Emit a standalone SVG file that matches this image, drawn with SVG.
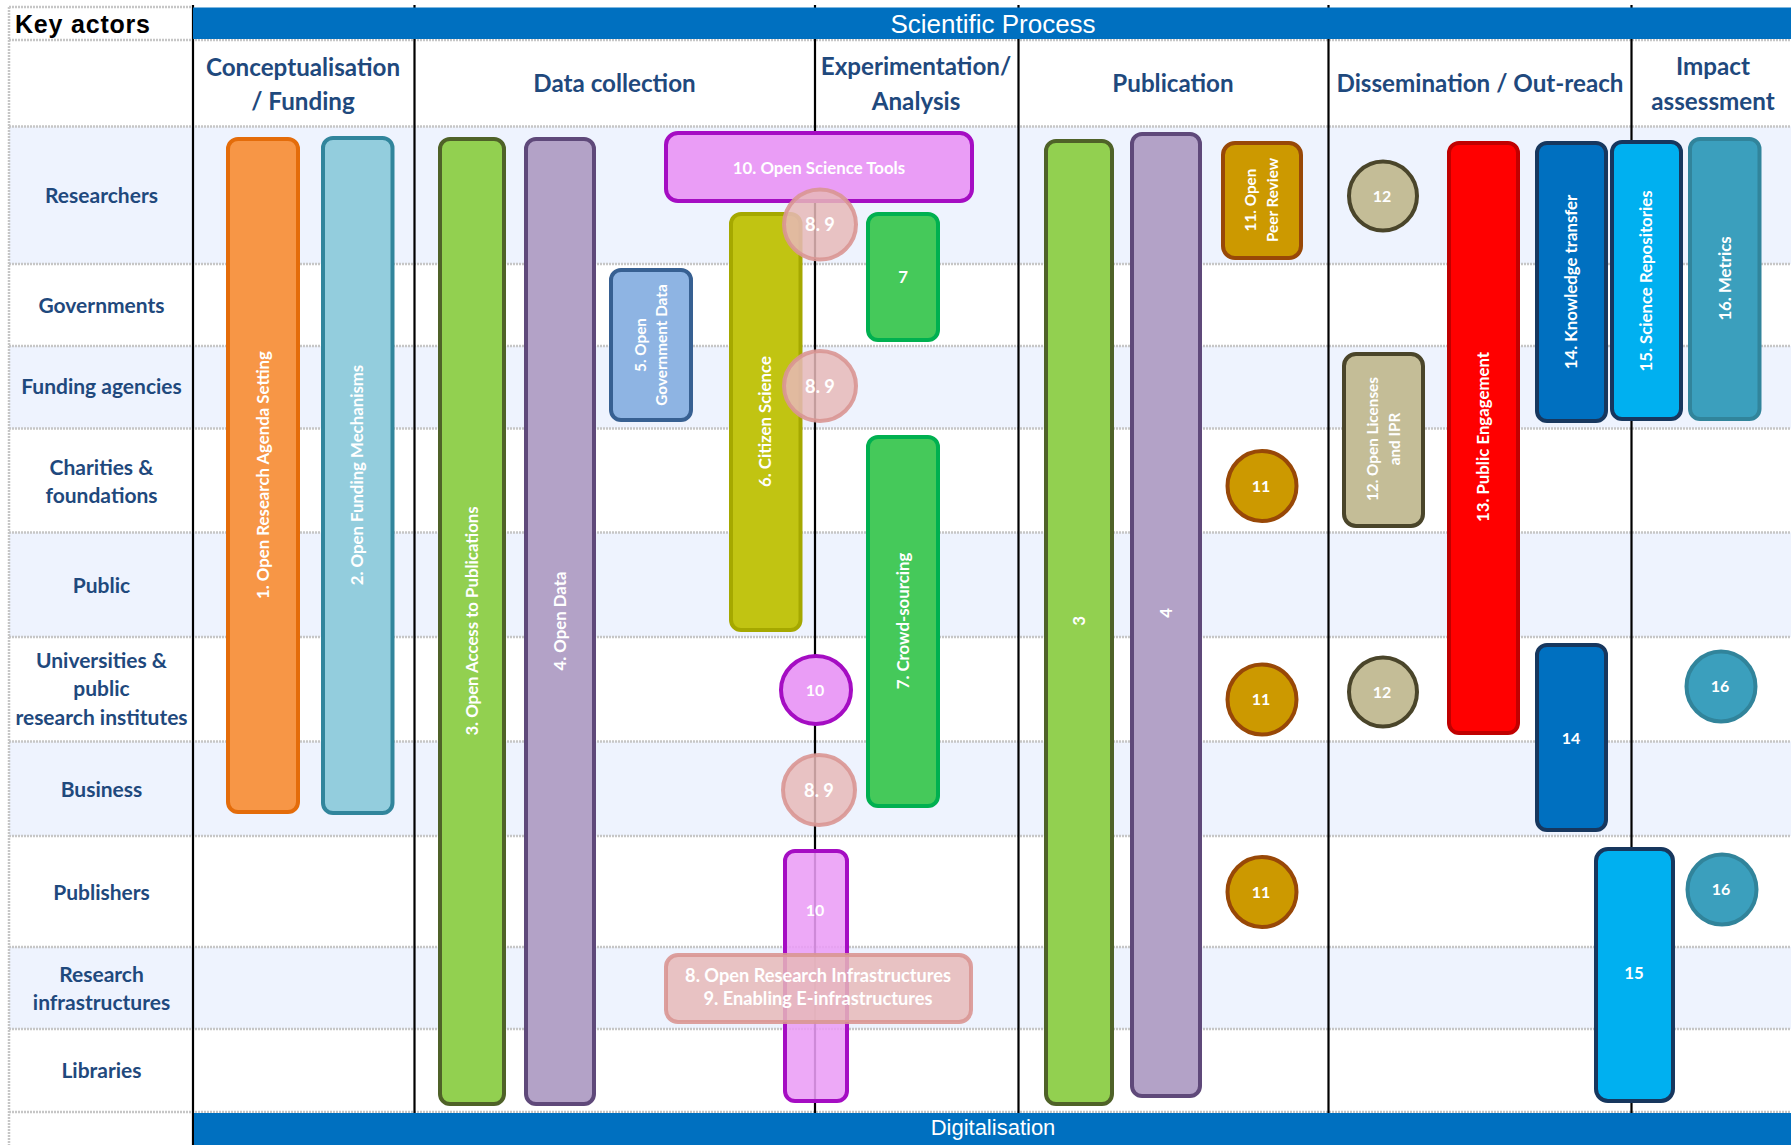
<svg xmlns="http://www.w3.org/2000/svg" width="1791" height="1145" viewBox="0 0 1791 1145">
<style>
.rowb{fill:#EEF3FE}
.sep{stroke:#C6C6C6;stroke-width:2.5;stroke-dasharray:2 1;fill:none}
.vl{stroke:#000;stroke-width:2.2}
.hbar{fill:#0070C0}
.bt{font-family:"Liberation Sans",Arial,sans-serif;fill:#fff;text-anchor:middle}
.ch{font-family:Lato,"Liberation Sans",sans-serif;font-weight:700;font-size:24.2px;fill:#1F497D;text-anchor:middle}
.rl{font-family:Lato,"Liberation Sans",sans-serif;font-weight:700;font-size:21px;fill:#1F497D;text-anchor:middle}
.lbl{font-family:Lato,"Liberation Sans",sans-serif;font-weight:700;font-size:16.8px;fill:#fff;text-anchor:middle}
.sm{font-size:15.3px}
.num{font-size:16px}
.big{font-size:18.2px}
.n rect,.n ellipse{stroke-width:4}
.o{fill:#F79646;stroke:#E46C0A}
.lb{fill:#93CDDD;stroke:#31859C}
.g{fill:#92D050;stroke:#4F6228}
.p{fill:#B3A2C7;stroke:#5F497A}
.gov{fill:#8EB4E3;stroke:#376092}
.cit{fill:#C1C412;stroke:#A5A800}
.cr{fill:#45C95A;stroke:#00B050}
.ost{fill:#EA9DF6;stroke:#A50DC3}
.ri{fill:#E6B9B8;stroke:#D99694;fill-opacity:0.85;stroke-opacity:0.9}
.pr{fill:#CC9900;stroke:#984807}
.lic{fill:#C4BD97;stroke:#4A452A}
.pe{fill:#FF0000;stroke:#C00000}
.kt{fill:#0070C0;stroke:#17375E}
.sr{fill:#00B0F0;stroke:#17375E}
.me{fill:#3B9FBD;stroke:#31849B}
</style>

<g id="table">
  <rect x="0" y="0" width="1791" height="1145" fill="#fff"/>
  <rect class="rowb" x="9" y="126.5" width="1782" height="137.5"/>
  <rect class="rowb" x="9" y="346" width="1782" height="82.5"/>
  <rect class="rowb" x="9" y="532.5" width="1782" height="104.5"/>
  <rect class="rowb" x="9" y="741.5" width="1782" height="94.5"/>
  <rect class="rowb" x="9" y="947" width="1782" height="82"/>
  <path class="sep" d="M9 7H193 M9 40H1791 M9 126.5H1791 M9 264H1791 M9 346H1791 M9 428.5H1791 M9 532.5H1791 M9 637H1791 M9 741.5H1791 M9 836H1791 M9 947H1791 M9 1029H1791 M9 1112H1791 M9 7V1145"/>
  <path class="vl" d="M193 5V1145 M414.5 5V1145 M815 5V1145 M1018.5 5V1145 M1328.5 5V1145 M1631.5 5V1145"/>
  <rect class="hbar" x="193" y="7.5" width="1598" height="31.5"/>
  <rect class="hbar" x="194" y="1113" width="1597" height="32"/>
  <text x="15" y="33" font-family="Liberation Sans,Arial,sans-serif" font-weight="700" font-size="25" textLength="135" fill="#000">Key actors</text>
  <text class="bt" x="993" y="33" font-size="26">Scientific Process</text>
  <text class="bt" x="993" y="1135" font-size="22">Digitalisation</text>
</g>

<g id="column-headers">
  <text class="ch" x="303" y="76">Conceptualisation</text>
  <text class="ch" x="303" y="110">/ Funding</text>
  <text class="ch" x="614.5" y="92">Data collection</text>
  <text class="ch" x="916" y="75">Experimentation/</text>
  <text class="ch" x="916" y="110">Analysis</text>
  <text class="ch" x="1173" y="92">Publication</text>
  <text class="ch" x="1480" y="92">Dissemination / Out-reach</text>
  <text class="ch" x="1713" y="75">Impact</text>
  <text class="ch" x="1713" y="110">assessment</text>
</g>

<g id="row-labels">
  <text class="rl" x="101.5" y="203">Researchers</text>
  <text class="rl" x="101.5" y="313">Governments</text>
  <text class="rl" x="101.5" y="394">Funding agencies</text>
  <text class="rl" x="101.5" y="475">Charities &amp;</text>
  <text class="rl" x="101.5" y="503">foundations</text>
  <text class="rl" x="101.5" y="593">Public</text>
  <text class="rl" x="101.5" y="668">Universities &amp;</text>
  <text class="rl" x="101.5" y="696">public</text>
  <text class="rl" x="101.5" y="725">research institutes</text>
  <text class="rl" x="101.5" y="797">Business</text>
  <text class="rl" x="101.5" y="900">Publishers</text>
  <text class="rl" x="101.5" y="982">Research</text>
  <text class="rl" x="101.5" y="1010">infrastructures</text>
  <text class="rl" x="101.5" y="1078">Libraries</text>
</g>

<g id="connectors"></g>

<g id="n1" class="n"><rect class="o" x="228" y="139" width="70" height="673" rx="10"/>
  <text class="lbl" transform="translate(263 475) rotate(-90)" dy="5.8">1. Open Research Agenda Setting</text></g>
<g id="n2" class="n"><rect class="lb" x="323" y="138" width="69.5" height="675" rx="10"/>
  <text class="lbl" transform="translate(357.5 475) rotate(-90)" dy="5.8">2. Open Funding Mechanisms</text></g>
<g id="n3a" class="n"><rect class="g" x="440" y="139" width="64" height="965" rx="10"/>
  <text class="lbl" transform="translate(472 621) rotate(-90)" dy="5.8">3. Open Access to Publications</text></g>
<g id="n4a" class="n"><rect class="p" x="526" y="139" width="68" height="965" rx="10"/>
  <text class="lbl" transform="translate(560 621) rotate(-90)" dy="5.8">4. Open Data</text></g>
<g id="n5" class="n"><rect class="gov" x="611" y="270" width="80" height="150" rx="10"/>
  <text class="lbl sm" transform="translate(651 345) rotate(-90)"><tspan x="0" y="-5">5. Open</tspan><tspan x="0" y="16">Government Data</tspan></text></g>
<g id="n6" class="n"><rect class="cit" x="731" y="214" width="69.5" height="416" rx="10"/>
  <text class="lbl" transform="translate(765.5 421.5) rotate(-90)" dy="5.8">6. Citizen Science</text></g>
<g id="n7a" class="n"><rect class="cr" x="868" y="214" width="70" height="126" rx="10"/>
  <text class="lbl" x="903" y="283">7</text></g>
<g id="n7b" class="n"><rect class="cr" x="868" y="437" width="70" height="369" rx="10"/>
  <text class="lbl" transform="translate(903 621) rotate(-90)" dy="5.8">7. Crowd-sourcing</text></g>
<g id="n10a" class="n"><rect class="ost" x="666" y="133" width="306" height="68" rx="12"/>
  <text class="lbl" x="819" y="174">10. Open Science Tools</text></g>
<g id="n89a" class="n"><ellipse class="ri" cx="820" cy="224.5" rx="36" ry="35"/>
  <text class="lbl big" x="820" y="231">8. 9</text></g>
<g id="n89b" class="n"><ellipse class="ri" cx="820" cy="386" rx="36" ry="35"/>
  <text class="lbl big" x="820" y="392.5">8. 9</text></g>
<g id="n10b" class="n"><ellipse class="ost" cx="816" cy="690" rx="35" ry="34"/>
  <text class="lbl num" x="815" y="696">10</text></g>
<g id="n89c" class="n"><ellipse class="ri" cx="819" cy="790" rx="36" ry="35"/>
  <text class="lbl big" x="819" y="796.5">8. 9</text></g>
<g id="n10c" class="n"><rect class="ost" x="785" y="851" width="62" height="250" rx="10" fill-opacity="0.88"/>
  <text class="lbl num" x="815" y="916">10</text></g>
<g id="n89d" class="n"><rect class="ri" x="666" y="955" width="305" height="67" rx="12"/>
  <text class="lbl big" x="818" y="982">8. Open Research Infrastructures</text>
  <text class="lbl big" x="818" y="1005">9. Enabling E-infrastructures</text></g>
<g id="n3b" class="n"><rect class="g" x="1046" y="141" width="66" height="963" rx="10"/>
  <text class="lbl" transform="translate(1079 621) rotate(-90)" dy="5.8">3</text></g>
<g id="n4b" class="n"><rect class="p" x="1132" y="134" width="68" height="962" rx="10"/>
  <text class="lbl" transform="translate(1166 613) rotate(-90)" dy="5.8">4</text></g>
<g id="n11a" class="n"><rect class="pr" x="1223" y="143" width="78" height="115" rx="12"/>
  <text class="lbl sm" transform="translate(1261.5 200) rotate(-90)"><tspan x="0" y="-5.2">11. Open</tspan><tspan x="0" y="16">Peer Review</tspan></text></g>
<g id="n11b" class="n"><ellipse class="pr" cx="1262" cy="486" rx="34.5" ry="35"/>
  <text class="lbl num" x="1261" y="491.5">11</text></g>
<g id="n11c" class="n"><ellipse class="pr" cx="1262" cy="699.5" rx="34.5" ry="35"/>
  <text class="lbl num" x="1261" y="705">11</text></g>
<g id="n11d" class="n"><ellipse class="pr" cx="1262" cy="892" rx="34.5" ry="35"/>
  <text class="lbl num" x="1261" y="897.5">11</text></g>
<g id="n12a" class="n"><ellipse class="lic" cx="1383" cy="196" rx="34" ry="34.5"/>
  <text class="lbl num" x="1382" y="201.5">12</text></g>
<g id="n12b" class="n"><rect class="lic" x="1344" y="354" width="79" height="172" rx="12"/>
  <text class="lbl sm" transform="translate(1383 439) rotate(-90)"><tspan x="0" y="-5.2">12. Open Licenses</tspan><tspan x="0" y="16.5">and IPR</tspan></text></g>
<g id="n12c" class="n"><ellipse class="lic" cx="1383" cy="692" rx="34" ry="34.5"/>
  <text class="lbl num" x="1382" y="697.5">12</text></g>
<g id="n13" class="n"><rect class="pe" x="1449" y="143" width="69" height="590" rx="10"/>
  <text class="lbl" transform="translate(1483.5 437) rotate(-90)" dy="5.8">13. Public Engagement</text></g>
<g id="n14a" class="n"><rect class="kt" x="1537" y="143" width="69" height="278" rx="10"/>
  <text class="lbl" transform="translate(1571.5 282) rotate(-90)" dy="5.8">14. Knowledge transfer</text></g>
<g id="n14b" class="n"><rect class="kt" x="1537" y="645" width="69" height="185" rx="10"/>
  <text class="lbl num" x="1571" y="743.5">14</text></g>
<g id="n15a" class="n"><rect class="sr" x="1612" y="142" width="69" height="277" rx="10"/>
  <text class="lbl" transform="translate(1646.5 281) rotate(-90)" dy="5" font-size="14.2">15. Science Repositories</text></g>
<g id="n15b" class="n"><rect class="sr" x="1596" y="849" width="77" height="252" rx="12"/>
  <text class="lbl" x="1634" y="979" font-size="15">15</text></g>
<g id="n16a" class="n"><rect class="me" x="1690" y="139" width="69.5" height="280" rx="10"/>
  <text class="lbl" transform="translate(1725 278.5) rotate(-90)" dy="5.8">16. Metrics</text></g>
<g id="n16b" class="n"><ellipse class="me" cx="1721" cy="686.5" rx="34.5" ry="35"/>
  <text class="lbl num" x="1720" y="692">16</text></g>
<g id="n16c" class="n"><ellipse class="me" cx="1722" cy="889.5" rx="34.5" ry="35"/>
  <text class="lbl num" x="1721" y="895">16</text></g>
</svg>
